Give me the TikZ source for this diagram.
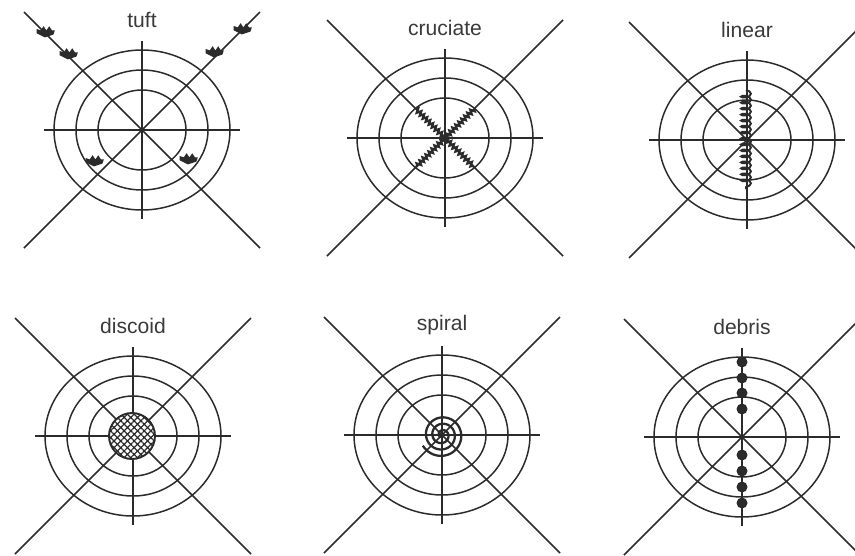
\documentclass[tikz,border=0pt]{standalone}
\usepackage{fontspec}
\newfontfamily\labelfont{Liberation Sans}
\usepackage{tikz}
\usetikzlibrary{decorations.pathmorphing, patterns.meta}
\definecolor{Ink}      {HTML}{2B2B2B}
\definecolor{LabelGrey}{HTML}{3A3A3A}
\tikzset{
  web line/.style={draw=Ink, line width=0.85pt},
  pics/web/.style={code={
    \draw[web line] (-118,-118) -- (118,118);
    \draw[web line] (-118,118)  -- (118,-118);
    \draw[web line] (-98,0)     -- (98,0);
    \draw[web line] (0,-89)     -- (0,89);
    \foreach \k in {2,3,4}
      \draw[web line] (0,0) ellipse [x radius=22*\k, y radius=20*\k];
  }},
  pics/tuft/.style={code={
    \fill[Ink, scale=1.4] (0,1) -- (-6,-2) -- (-6,-5) -- (-3,-4) -- (-1,-7) -- (1,-4)
               -- (3,-7) -- (5,-4) -- (7,-4) -- (6,-1) -- cycle;
  }},
}

\begin{document}
\begin{tikzpicture}[x=0.02cm, y=-0.02cm,
    panel label/.style={font=\labelfont\fontsize{12}{14}\selectfont,
                        text=LabelGrey, inner sep=0pt},
    fibre/.style={Ink, line width=1.3pt},
    coil fibre/.style={Ink, line width=1.1pt, decorate,
                       decoration={coil, amplitude=2.8pt, segment length=3.4pt, aspect=0.45}},
    zig fibre/.style={Ink, line width=1.3pt, decorate,
                      decoration={zigzag, amplitude=1.2pt, segment length=2.4pt}}]
  \useasboundingbox (0,0) rectangle (855,555);
  \clip (0,0) rectangle (855,555);
  % Webs and labels
  \foreach \cx/\cy/\name in {142/130/tuft, 445/138/cruciate, 747/140/linear,
                             133/436/discoid, 442/435/spiral, 742/437/debris} {
    \pic at (\cx,\cy) {web};
    \node[panel label] (\name-label) at (\cx,{\cy-110}) {\name};
  }
  % tuft
  \foreach \tx/\ty in {45/36, 68/58, 242/33, 214/56, 94/165, 188/163}
    \pic at (\tx,\ty) {tuft};
  % cruciate
  \draw[zig fibre] (416,109) -- (474,167);
  \draw[zig fibre] (474,109) -- (416,167);
  % linear
  \draw[coil fibre] (746,90) -- (746,189);
  % discoid
  \draw[Ink, line width=1.1pt, preaction={fill=white},
        pattern={Hatch[angle=45, distance=2.7pt, line width=0.7pt]}, pattern color=Ink]
        (132,436) circle [radius=23];
  % spiral
  \draw[fibre] plot[domain=0:1231, samples=240, smooth, variable=\t]
        ({442+0.0178*\t*cos(\t)}, {435+0.0178*\t*sin(\t)});
  % debris
  \foreach \dy in {-75,-59,-44,-28,18,34,50,66}
    \fill[Ink] (742,{437+\dy}) circle [radius=5.5];
\end{tikzpicture}
\end{document}
